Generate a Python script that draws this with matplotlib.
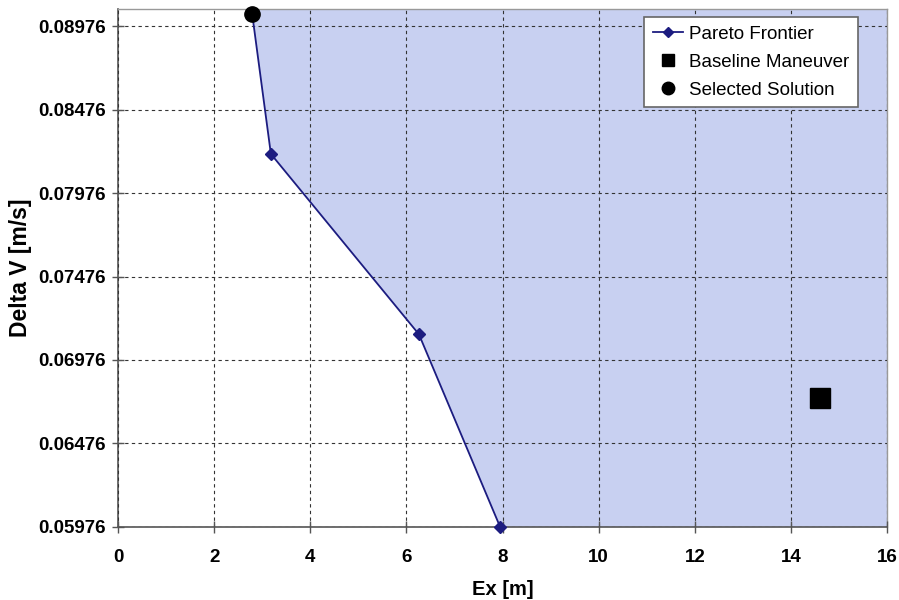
import numpy as np
import matplotlib
matplotlib.use("Agg")
import matplotlib.pyplot as plt

plt.rcParams['font.family'] = ['Liberation Sans', 'DejaVu Sans']

# pareto frontier points (Ex [m], Delta V [m/s])
pareto_ex = [2.79, 3.18, 6.26, 7.95]
pareto_dv = [0.0905, 0.0821, 0.0713, 0.05976]

baseline_ex = [14.61]
baseline_dv = [0.0675]

selected_ex = [2.79]
selected_dv = [0.0905]

yticks = [0.05976, 0.06476, 0.06976, 0.07476, 0.07976, 0.08476, 0.08976]
xticks = [0, 2, 4, 6, 8, 10, 12, 14, 16]
ymin, ymax = 0.05976, 0.09078
xmax = 16

fig = plt.figure(figsize=(8.99, 6.0), dpi=100)
ax = fig.add_axes([0.1313, 0.1217, 0.8554, 0.8633])

# dominated region to the right of the frontier
poly_x = [pareto_ex[0]] + pareto_ex + [xmax, xmax, pareto_ex[0]]
poly_y = [ymax] + pareto_dv + [ymin, ymax, ymax]
ax.fill(poly_x, poly_y, color='#c8d0f1', zorder=1, lw=0)

ax.plot(pareto_ex, pareto_dv, color='#1c1c80', lw=1.3, marker='D', ms=6,
        label='Pareto Frontier', zorder=3, clip_on=False)
ax.plot(baseline_ex, baseline_dv, ls='none', marker='s', ms=14, color='black',
        label='Baseline Maneuver', zorder=4)
ax.plot(selected_ex, selected_dv, ls='none', marker='o', ms=11, color='black',
        label='Selected Solution', zorder=5, clip_on=False)

ax.set_xlim(0, xmax)
ax.set_ylim(ymin, ymax)
ax.set_xticks(xticks)
ax.set_yticks(yticks)
ax.set_yticklabels(['%.5f' % v for v in yticks])
ax.grid(True, color='#333333', ls=(0, (3, 3)), lw=0.8, zorder=2)
ax.set_axisbelow(False)

for s in ['left', 'bottom']:
    ax.spines[s].set_color('#555555')
    ax.spines[s].set_linewidth(1.2)
for s in ['top', 'right']:
    ax.spines[s].set_color('#999999')
    ax.spines[s].set_linewidth(1.0)

ax.tick_params(direction='inout', length=8, width=1, color='#555555',
               labelsize=13.5)
ax.tick_params(axis='y', pad=5)
ax.tick_params(axis='x', pad=12)
for lab in ax.get_xticklabels() + ax.get_yticklabels():
    lab.set_fontweight('bold')

ax.set_xlabel('Ex [m]', fontsize=14.5, fontweight='bold', labelpad=10)
ax.set_ylabel('Delta V [m/s]', fontsize=16.5, fontweight='bold', labelpad=4)

leg = ax.legend(loc='upper right', bbox_to_anchor=(0.9623, 0.9846),
                borderaxespad=0, fontsize=13.5, frameon=True, fancybox=False,
                borderpad=0.45, labelspacing=0.58, handlelength=1.6,
                handletextpad=0.35)
leg.get_frame().set_edgecolor('#666666')
leg.get_frame().set_linewidth(1.2)
leg.get_frame().set_alpha(1)
leg.legend_handles[1].set_markersize(9)
leg.legend_handles[2].set_markersize(9)
leg.legend_handles[0].set_markersize(5)
leg.set_zorder(10)

fig.savefig('out.png', dpi=100)
